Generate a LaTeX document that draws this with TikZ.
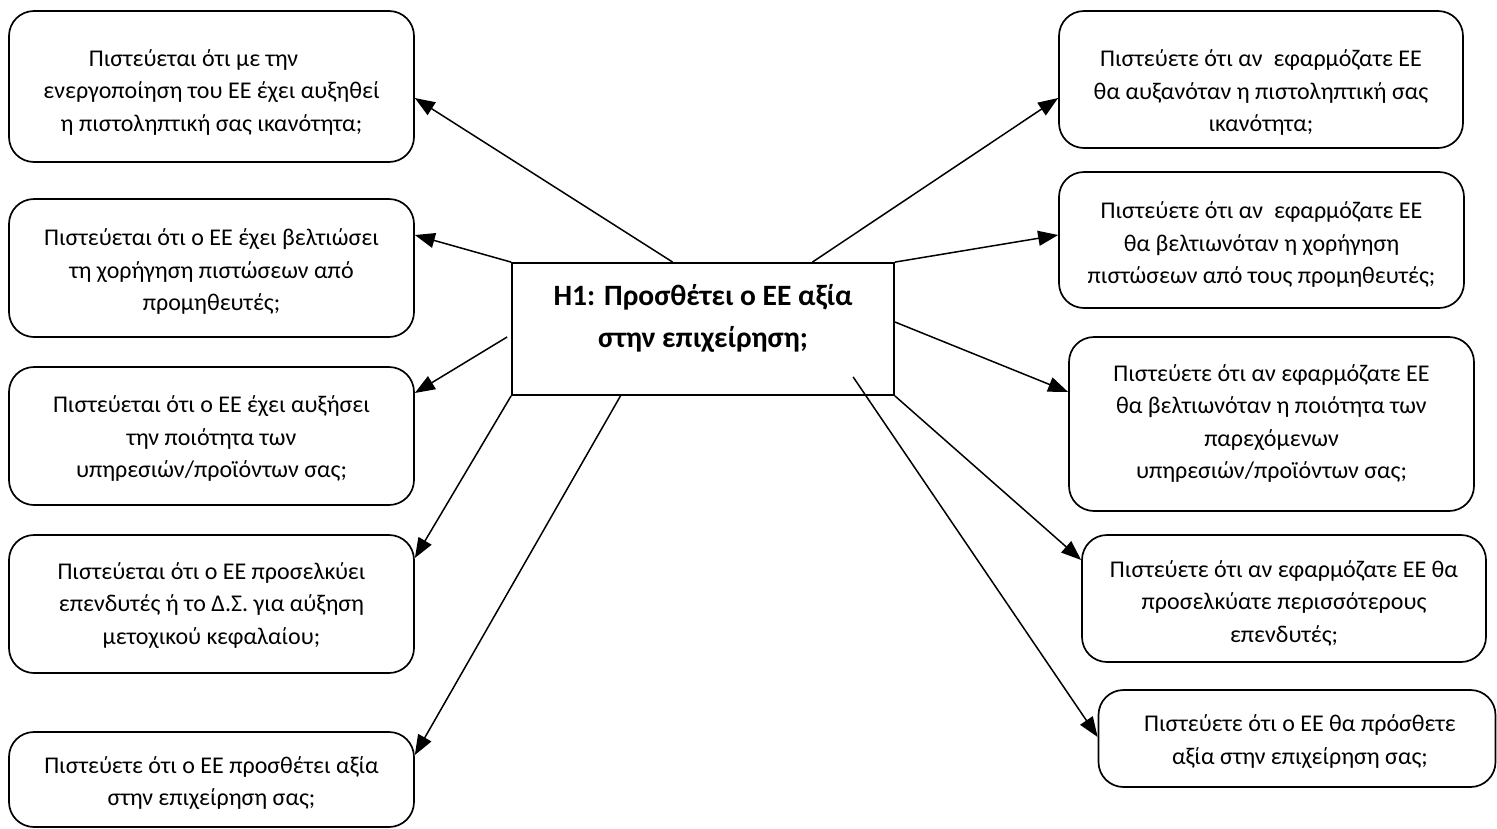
\documentclass[tikz,border=0pt]{standalone}
\usepackage{fontspec}
\setmainfont{Carlito}
\usetikzlibrary{arrows.meta,calc}
\begin{document}
\begin{tikzpicture}[x=1pt,y=-1pt,
  box/.style={draw, line width=1.7pt, rounded corners=25pt, inner sep=0pt},
  hbox/.style={draw, line width=1.8pt, inner sep=0pt, fill=white},
  txt/.style={align=center, inner sep=0pt, font=\fontsize{24}{32.5}\selectfont},
  htxt/.style={align=center, inner sep=0pt, font=\fontsize{29.5}{42}\selectfont\bfseries},
  arr/.style={line width=1.5pt, -{Triangle[length=20pt,width=15pt]}}]
\useasboundingbox[fill=white] (0,0) rectangle (1497,828);

% centre box
\node[hbox, minimum width=382pt, minimum height=132pt] (H) at (703,329) {};
\node[htxt] (Ht) at (703,318) {H1: Προσθέτει ο ΕΕ αξία\\στην επιχείρηση;};

% left boxes
\node[box, minimum width=405pt, minimum height=151pt] (L1) at (211.5,86.5) {};
\node[txt] (L1t) at (211.5,92) {Πιστεύεται ότι με την\hspace*{36pt}\\ενεργοποίηση του ΕΕ έχει αυξηθεί\\η πιστοληπτική σας ικανότητα;};
\node[box, minimum width=405pt, minimum height=138pt] (L2) at (211.5,268) {};
\node[txt] (L2t) at (211.5,271.5) {Πιστεύεται ότι ο ΕΕ έχει βελτιώσει\\τη χορήγηση πιστώσεων από\\προμηθευτές;};
\node[box, minimum width=405pt, minimum height=138pt] (L3) at (211.5,436) {};
\node[txt] (L3t) at (211.5,438.5) {Πιστεύεται ότι ο ΕΕ έχει αυξήσει\\την ποιότητα των\\υπηρεσιών/προϊόντων σας;};
\node[box, minimum width=405pt, minimum height=138pt] (L4) at (211.5,604) {};
\node[txt] (L4t) at (211.5,605.5) {Πιστεύεται ότι ο ΕΕ προσελκύει\\επενδυτές ή το Δ.Σ. για αύξηση\\μετοχικού κεφαλαίου;};
\node[box, minimum width=405pt, minimum height=95pt] (L5) at (211.5,779.5) {};
\node[txt] (L5t) at (211.5,783) {Πιστεύετε ότι ο ΕΕ προσθέτει αξία\\στην επιχείρηση σας;};

% right boxes
\node[box, minimum width=404pt, minimum height=137pt] (R1) at (1261,79.5) {};
\node[txt] (R1t) at (1261,92.5) {Πιστεύετε ότι αν\ \ εφαρμόζατε ΕΕ\\θα αυξανόταν η πιστοληπτική σας\\ικανότητα;};
\node[box, minimum width=405pt, minimum height=136pt] (R2) at (1261.5,240) {};
\node[txt] (R2t) at (1261.5,244.5) {Πιστεύετε ότι αν\ \ εφαρμόζατε ΕΕ\\θα βελτιωνόταν η χορήγηση\\πιστώσεων από τους προμηθευτές;};
\node[box, minimum width=405pt, minimum height=174pt] (R3) at (1271.5,424) {};
\node[txt] (R3t) at (1271.5,423.5) {Πιστεύετε ότι αν εφαρμόζατε ΕΕ\\θα βελτιωνόταν η ποιότητα των\\παρεχόμενων\\υπηρεσιών/προϊόντων σας;};
\node[box, minimum width=404pt, minimum height=127pt] (R4) at (1284,598.5) {};
\node[txt] (R4t) at (1284,603) {Πιστεύετε ότι αν εφαρμόζατε ΕΕ θα\\προσελκύατε περισσότερους\\επενδυτές;};
\node[box, minimum width=397pt, minimum height=97pt] (R5) at (1297,738.5) {};
\node[txt] (R5t) at (1300,741.5) {Πιστεύετε ότι ο ΕΕ θα πρόσθετε\\αξία στην επιχείρηση σας;};

% start points on the centre box
\coordinate (s1) at ($(H.north west)!0.421!(H.north east)$);
\coordinate (s5) at ($(H.south west)!0.285!(H.south east)$);
\coordinate (s6) at ($(H.north west)!0.785!(H.north east)$);
\coordinate (s10) at ($(H.south west)+(342,-19)$);

% connectors
\draw[arr] (s1) -- ([yshift=-11.5pt]L1.east);
\draw[arr] (H.north west) -- ([yshift=33pt]L2.east);
\draw[arr] ([xshift=-4pt,yshift=-8pt]H.west) -- ([yshift=43pt]L3.east);
\draw[arr] (H.south west) -- ([yshift=46pt]L4.east);
\draw[arr] (s5) -- ([yshift=24.5pt]L5.east);
\draw[arr] (s6) -- ([yshift=-18.5pt]R1.west);
\draw[arr] (H.north east) -- ([yshift=5pt]R2.west);
\draw[arr] ([yshift=7pt]H.east) -- ([yshift=32pt]R3.west);
\draw[arr] (H.south east) -- ([yshift=38.5pt]R4.west);
\draw[arr] (s10) -- ([yshift=1.5pt]R5.west);
\end{tikzpicture}
\end{document}
